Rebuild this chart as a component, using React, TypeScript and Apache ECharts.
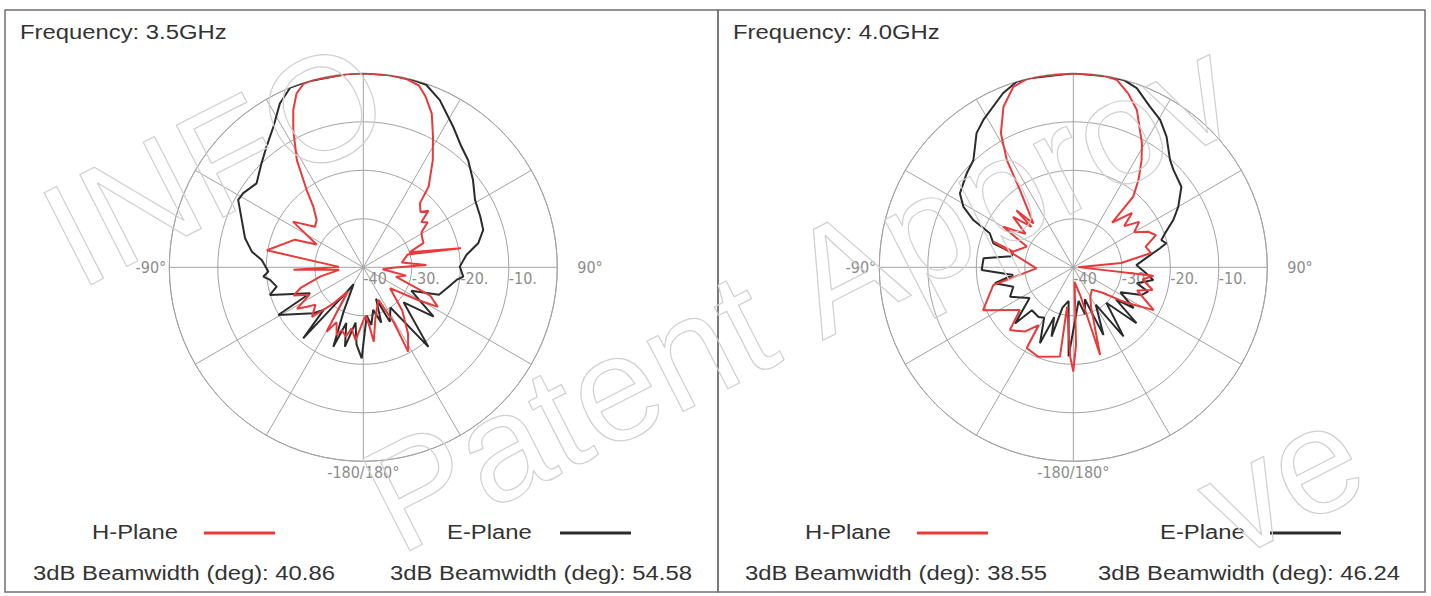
import React, { useEffect, useRef } from 'react';
import * as echarts from 'echarts';

// ---------- data ----------
const FREQUENCY_TITLES = ['Frequency: 3.5GHz', 'Frequency: 4.0GHz'];
const PLANE_NAMES = ['H-Plane', 'E-Plane'];
const BEAMWIDTH_H = [40.86, 38.55];
const BEAMWIDTH_E = [54.58, 46.24];
const RADIUS_MIN = -40;
const RADIUS_MAX = 0;
const RADIUS_STEP = 10;
const ANGLE_TICK_LABELS: Record<number, string> = { 90: '90°', 180: '-180/180°', 270: '-90°' };
const WATERMARK_TEXT = 'A-INFO Patent Approved';

// [angle in degrees (-180..180, 0 = boresight, clockwise), gain dB]
const H_PLANE_35: [number, number][] = [
  [-4, 0], [0, 0], [8, 0], [13, -0.2], [17, -0.8], [20, -2.5], [24, -5.3], [28, -9.4], [33, -13.7],
  [39, -18.6], [41.5, -22.4], [46, -23.6], [49, -22.2], [52, -24.8], [55, -23.8], [59, -26], [63, -26.4],
  [68, -26.6], [72, -30], [79, -19.5], [74, -30.5], [83, -32], [88, -27], [91, -34], [96, -36], [101, -31],
  [106, -33], [113, -25], [118, -22.6], [121, -27], [128, -33], [138, -28], [146, -23.5], [152, -20.3],
  [151, -27], [155, -32.6], [162, -31], [167, -29], [172, -24.5], [174, -27.7], [177, -30], [180, -29],
  [-174, -24.9], [-169, -27.2], [-166, -25.3], [-161, -26.3], [-158.5, -25], [-154, -27.4], [-150.3, -24.7],
  [-147, -34], [-140, -30], [-134, -25.3], [-128, -27.5], [-125, -25.8], [-122, -23.9], [-117, -27.5],
  [-112, -24.5], [-108, -26.5], [-102, -31], [-96, -35], [-92, -25.6], [-89, -35], [-80, -19.8], [-68, -24.8],
  [-64, -29.3], [-57, -22.7], [-50, -27], [-44.6, -26.3], [-39.5, -23.8], [-36.2, -20.2], [-31.8, -14],
  [-27, -8.2], [-24, -4.5], [-21, -1.6], [-18, -0.2], [-14.7, 0], [-4, 0],
];

const E_PLANE_35: [number, number][] = [
  [-5, 0], [0, 0], [8, 0], [14, 0], [19, -0.2], [24.6, -2.1], [32.6, -5.6], [39, -7.9], [44.4, -9.1],
  [51.5, -11.1], [58.9, -13.1], [66.5, -13.7], [72.7, -14.1], [78.2, -15.8], [83.2, -18.6], [89.6, -20.1],
  [95.3, -19.3], [97.7, -20.6], [103, -22], [110, -23.4], [116, -29], [125, -22.3], [131, -29], [140.7, -18.8],
  [146, -30], [154, -27.5], [158, -33], [162, -28], [167, -31], [172, -28], [176, -30], [181, -21.2],
  [-175, -24], [-172, -28.5], [-167, -23.2], [-163, -28], [-159.3, -22.5], [-156, -30], [-150, -36],
  [-145, -33], [-139.8, -20.8], [-137, -28], [-132.6, -26], [-119.3, -19.9], [-116, -27.8], [-106.5, -19.9],
  [-102.6, -21.7], [-97.7, -20.6], [-95.3, -19.3], [-92.6, -20.4], [-85.9, -19], [-82, -16.8], [-76.2, -14.9],
  [-68.7, -13.1], [-61.7, -10.7], [-58.3, -10.9], [-51.8, -12], [-44.4, -10], [-38.7, -8.1], [-32.6, -5.6],
  [-27, -2.1], [-22.1, 0], [-16.7, 0], [-5, 0],
];

const H_PLANE_40: [number, number][] = [
  [-9.4, 0], [0, 0], [9, 0], [13, -0.3], [17.5, -2.4], [22, -5], [29, -10.8], [32.5, -13.8], [36.7, -17.5],
  [40.3, -20.9], [41, -27.8], [47.2, -23.5], [51, -26.5], [55.4, -23.5], [60, -25.5], [64.6, -22.9],
  [68.7, -21.7], [74, -24.5], [79.6, -23.7], [84.8, -30.1], [88, -39], [96, -23.4], [100, -25.5], [106, -23],
  [110, -26], [118, -21.2], [122, -25.5], [125, -28], [131, -32], [140, -34], [150, -33], [156, -31],
  [163, -21.1], [166, -34], [175, -37], [178, -24], [180, -18.5], [-178, -21.6], [-171, -31.8],
  [-171.5, -21.4], [-158.6, -20.2], [-150, -20.8], [-149, -26.1], [-143, -23.4], [-134.7, -21.6],
  [-128.7, -25.9], [-115.4, -19.4], [-102.5, -23.1], [-91.6, -32.4], [-72.2, -22.7], [-75.4, -27.2],
  [-66, -29.5], [-60, -23.3], [-55, -28], [-50, -23.8], [-46, -28], [-45, -23.4], [-42.3, -27.8],
  [-34.6, -20.6], [-31.8, -14], [-28.4, -8.6], [-23.5, -3.9], [-18.4, -0.8], [-13.8, 0], [-9.4, 0],
];

const E_PLANE_40: [number, number][] = [
  [-13, 0], [0, 0], [10, 0], [15, 0], [19.5, -0.8], [25.5, -3.3], [30.5, -4.7], [35.5, -6.9], [42, -10.2],
  [45.8, -11.2], [53.3, -12.2], [60, -15], [64.7, -17.2], [69.6, -19.8], [72.8, -21], [75.5, -20.2],
  [77.6, -21.7], [82, -24.5], [88, -27], [93, -25.5], [99, -23.3], [104, -26.5], [108, -23.8], [112, -24.8],
  [118, -29], [124, -25], [127, -29], [131.5, -22.6], [137, -30], [144, -22.4], [149, -31], [156, -24.7],
  [160, -33], [166, -30], [171, -33], [177, -30], [-177, -21.6], [-172, -33], [-165, -31.4], [-162.6, -25],
  [-159, -29], [-156.3, -22.9], [-150, -28], [-145, -27.5], [-136, -27.7], [-134, -23.3], [-125, -29],
  [-115, -25.6], [-108, -27], [-101.5, -23.5], [-97.3, -27.5], [-91.7, -21.1], [-84.3, -21.4], [-80, -27],
  [-77, -27.3], [-73.3, -22.8], [-67.8, -21.4], [-64.7, -17.2], [-61.1, -14.1], [-56.9, -12.1],
  [-48.6, -10.7], [-43, -9.8], [-35.8, -5.9], [-31.4, -4.4], [-22, -1.3], [-17, 0], [-13, 0],
];

const H_SERIES = [H_PLANE_35, H_PLANE_40];
const E_SERIES = [E_PLANE_35, E_PLANE_40];

// ---------- layout / style ----------
const W = 1431;
const H = 596;
const RED = '#e83a3a';
const BLACK = '#2b2b2b';
const GRID = '#a3a3a3';
const TICK_TEXT = '#8c8c8c';
const TEXT = '#333333';
const NARROW = '"Liberation Sans Narrow", "DejaVu Sans Condensed", "Liberation Sans", Arial, sans-serif';
const SANS = '"Liberation Sans", Arial, sans-serif';

const PANELS = [
  { left: 5, width: 713, cx: 363.3, titleX: 20, hX: 92, hLine: 204, eX: 447, eLine: 560, bwHX: 33, bwEX: 390 },
  { left: 718, width: 707, cx: 1073.3, titleX: 733, hX: 805, hLine: 917, eX: 1160, eLine: 1270, bwHX: 745, bwEX: 1098 },
];
const CY = 267.3;
const RADIUS = 194;
// baseline start points of the diagonal watermark lines
const WATERMARK_BASELINES = [[-55, 359], [-91, 806], [-37, 1208]];
const WATERMARK_ROTATION = (27 * Math.PI) / 180;
const WATERMARK_SIZE = 150;

const toPolar = (pts: [number, number][]) =>
  pts.map(([a, v]) => [Math.max(v, RADIUS_MIN), a < 90 ? a + 360 : a]);

const label = (x: number, y: number, text: string) => ({
  type: 'text',
  x,
  y,
  scaleX: 1.135,
  silent: true,
  style: { text, fontSize: 21, fontFamily: SANS, fill: TEXT, align: 'left', verticalAlign: 'middle' },
});

// Watermark letters: placed one by one along a rotated baseline, keeping only letters whose box is on the page.
const buildWatermark = () => {
  const out: any[] = [];
  const canvas = document.createElement('canvas');
  const ctx = canvas.getContext('2d');
  if (!ctx) return out;
  const fs = WATERMARK_SIZE;
  ctx.font = `${fs}px "Liberation Sans", Arial, sans-serif`;
  const th = WATERMARK_ROTATION;
  const dir = [Math.cos(th), -Math.sin(th)];
  const down = [Math.sin(th), Math.cos(th)];
  const central = 0.3465 * fs;
  const tol = 2;
  WATERMARK_BASELINES.forEach(([bx, by]) => {
    for (let i = 0; i < WATERMARK_TEXT.length; i++) {
      const ch = WATERMARK_TEXT[i];
      if (ch === ' ') continue;
      const adv = ctx.measureText(WATERMARK_TEXT.slice(0, i)).width;
      const w = ctx.measureText(ch).width;
      const px = bx + adv * dir[0];
      const py = by + adv * dir[1];
      const corners = [
        [0, -0.92 * fs], [w, -0.92 * fs], [0, 0.23 * fs], [w, 0.23 * fs],
      ].map(([lx, ly]) => [px + lx * dir[0] + ly * down[0], py + lx * dir[1] + ly * down[1]]);
      const inside = corners.every(([x, y]) => x >= -tol && x <= W + tol && y >= -tol && y <= H + tol);
      if (!inside) continue;
      out.push({
        type: 'text',
        x: px - central * down[0],
        y: py - central * down[1],
        rotation: th,
        silent: true,
        z: 100,
        style: {
          text: ch,
          fontSize: fs,
          fontFamily: SANS,
          fill: 'none',
          stroke: '#d0d0d0',
          lineWidth: 1.2,
          align: 'left',
          verticalAlign: 'middle',
        },
      });
    }
  });
  return out;
};

export default function App() {
  const ref = useRef<HTMLDivElement>(null);

  useEffect(() => {
    if (!ref.current) return;
    const chart = echarts.init(ref.current, undefined, { renderer: 'svg' });

    const graphic: any[] = [...buildWatermark()];
    PANELS.forEach((p, i) => {
      graphic.push({
        type: 'rect',
        silent: true,
        shape: { x: p.left, y: 10, width: p.width, height: 582 },
        style: { fill: 'none', stroke: '#707070', lineWidth: 1.5 },
      });
      graphic.push(label(p.titleX, 32, FREQUENCY_TITLES[i]));
      graphic.push(label(p.hX, 532, PLANE_NAMES[0]));
      graphic.push(label(p.eX, 532, PLANE_NAMES[1]));
      graphic.push({
        type: 'line', silent: true,
        shape: { x1: p.hLine, y1: 533, x2: p.hLine + 71, y2: 533 },
        style: { stroke: RED, lineWidth: 3 },
      });
      graphic.push({
        type: 'line', silent: true,
        shape: { x1: p.eLine, y1: 533, x2: p.eLine + 71, y2: 533 },
        style: { stroke: BLACK, lineWidth: 3 },
      });
      graphic.push(label(p.bwHX, 573, `3dB Beamwidth (deg): ${BEAMWIDTH_H[i].toFixed(2)}`));
      graphic.push(label(p.bwEX, 573, `3dB Beamwidth (deg): ${BEAMWIDTH_E[i].toFixed(2)}`));
    });

    const option: any = {
      animation: false,
      backgroundColor: '#ffffff',
      polar: PANELS.map((p) => ({ center: [p.cx, CY], radius: RADIUS })),
      angleAxis: PANELS.map((_, i) => ({
        polarIndex: i,
        type: 'value',
        min: 90,
        max: 450,
        interval: 30,
        startAngle: 0,
        clockwise: true,
        axisLine: { show: true, lineStyle: { color: GRID, width: 1 } },
        axisTick: { show: false },
        splitLine: { show: true, lineStyle: { color: GRID, width: 1 } },
        axisLabel: {
          show: true,
          margin: 3,
          color: TICK_TEXT,
          fontSize: 16,
          fontFamily: NARROW,
          verticalAlign: 'top',
          formatter: (v: number) => {
            const k = Math.round(v);
            if (k === 90) return '{r|90°}';
            return ANGLE_TICK_LABELS[k] ?? '';
          },
          rich: {
            r: { padding: [0, 0, 0, 17], fontSize: 16, color: TICK_TEXT, fontFamily: NARROW },
          },
        },
      })),
      radiusAxis: PANELS.map((_, i) => ({
        polarIndex: i,
        type: 'value',
        min: RADIUS_MIN,
        max: RADIUS_MAX,
        interval: RADIUS_STEP,
        axisLine: { show: false },
        axisTick: { show: false },
        splitLine: { show: true, lineStyle: { color: GRID, width: 1 } },
        axisLabel: {
          show: true,
          margin: -3,
          align: 'left',
          verticalAlign: 'top',
          color: TICK_TEXT,
          fontSize: 16,
          fontFamily: NARROW,
          formatter: (v: number) => {
            const k = Math.round(v);
            if (k === RADIUS_MAX) return '';
            if (k === RADIUS_MIN) return `${k}`;
            return `${k}.`;
          },
        },
      })),
      series: PANELS.flatMap((_, i) => [
        {
          name: PLANE_NAMES[1],
          type: 'line',
          coordinateSystem: 'polar',
          polarIndex: i,
          data: toPolar(E_SERIES[i]),
          symbol: 'none',
          silent: true,
          lineStyle: { color: BLACK, width: 2 },
          itemStyle: { color: BLACK },
          z: 3,
        },
        {
          name: PLANE_NAMES[0],
          type: 'line',
          coordinateSystem: 'polar',
          polarIndex: i,
          data: toPolar(H_SERIES[i]),
          symbol: 'none',
          silent: true,
          lineStyle: { color: RED, width: 2 },
          itemStyle: { color: RED },
          z: 4,
        },
      ]),
      graphic,
    };

    chart.setOption(option);
    return () => chart.dispose();
  }, []);

  return (
    <div
      ref={ref}
      style={{ position: 'absolute', left: 0, top: 0, width: W, height: H, background: '#fff' }}
    />
  );
}
